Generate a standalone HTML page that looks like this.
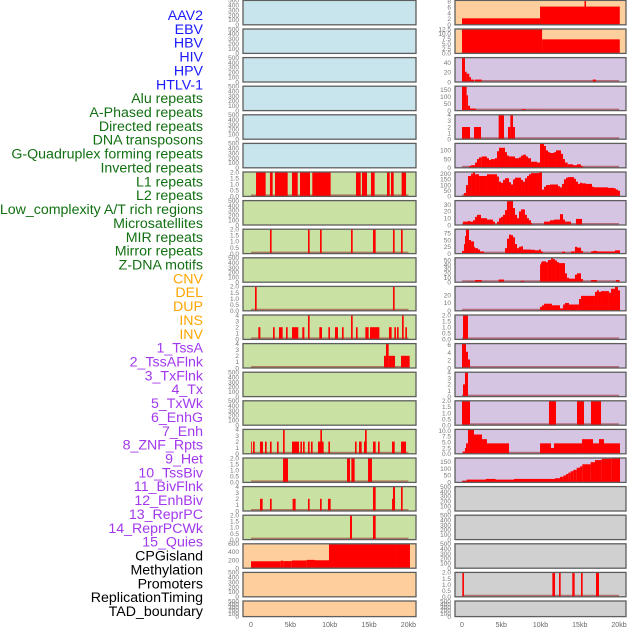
<!DOCTYPE html>
<html><head><meta charset="utf-8"><style>
html,body{margin:0;padding:0;background:#fff;}
svg{display:block;font-family:"Liberation Sans",sans-serif;}
</style></head><body>
<svg id="chart" width="630" height="630" viewBox="0 0 630 630"></svg>
<script>
const labels = ["AAV2","EBV","HBV","HIV","HPV","HTLV-1","Alu repeats","A-Phased repeats","Directed repeats","DNA transposons","G-Quadruplex forming repeats","Inverted repeats","L1 repeats","L2 repeats","Low_complexity A/T rich regions","Microsatellites","MIR repeats","Mirror repeats","Z-DNA motifs","CNV","DEL","DUP","INS","INV","1_TssA","2_TssAFlnk","3_TxFlnk","4_Tx","5_TxWk","6_EnhG","7_Enh","8_ZNF_Rpts","9_Het","10_TssBiv","11_BivFlnk","12_EnhBiv","13_ReprPC","14_ReprPCWk","15_Quies","CPGisland","Methylation","Promoters","ReplicationTiming","TAD_boundary"];
const labelGroups = ["v","v","v","v","v","v","r","r","r","r","r","r","r","r","r","r","r","r","r","s","s","s","s","s","c","c","c","c","c","c","c","c","c","c","c","c","c","c","c","o","o","o","o","o"];
const xTickValues = [0,5,10,15,20];
const xTickLabels = ["0","5kb","10kb","15kb","20kb"];

const segsL6 = [[0.64,1.86,2],[2.41,2.75,2],[3.05,4.66,2],[5.21,5.93,2],[6.23,7.5,2],[7.79,10.12,2],[13.34,13.94,2],[14.10,14.74,2],[15.25,15.71,2],[17.28,17.62,2],[17.79,18.13,2],[19.14,19.7,2]];
const segsL8 = [[2.41,2.62,2],[7.24,7.45,2],[8.77,8.98,2],[12.71,12.92,2],[15.5,15.84,2],[18.04,18.25,2],[19.06,19.27,2]];
const segsL10 = [[0.51,0.72,2],[18.04,18.25,2]];
const segsL11 = [[0.93,1.19,2],[2.80,3.01,2],[3.56,4.02,2],[4.45,4.66,2],[5.21,6.01,2],[6.52,6.78,2],[7.24,7.45,4],[8.68,9.02,2],[9.83,10.04,2],[10.67,11.05,2],[11.56,11.77,2],[12.71,12.92,4],[13.34,13.55,2],[14.53,14.95,2],[15.12,16.31,2],[17.53,17.87,2],[18.21,18.42,2],[18.55,18.76,2],[19.19,19.40,4],[19.61,19.82,2]];
const segsL12 = [[16.9,17.15,2],[17.15,17.49,4],[17.49,18.3,2],[19.06,20.16,2]];
const segsL15 = [[0,0.1,2],[0.25,0.47,2],[1.14,1.52,2],[1.78,1.99,2],[2.41,2.62,2],[3.30,3.51,2],[4.07,4.28,4],[5.21,6.10,2],[6.27,6.48,2],[6.61,6.82,2],[7.24,7.45,2],[7.62,7.83,2],[8.51,9.23,2],[8.81,9.02,4],[9.83,10.04,2],[13.21,13.42,2],[13.72,14.06,2],[14.36,14.70,2],[14.49,14.70,4],[15.50,15.84,2],[16.14,16.35,2],[17.92,18.26,2],[19.06,19.70,2]];
const segsL16 = [[4.07,4.70,2],[12.2,12.58,2],[12.75,13.17,2],[14.87,15.37,2]];
const segsL17 = [[1.14,1.48,2],[2.41,2.63,2],[5.29,5.67,2],[7.24,7.45,2],[8.77,8.98,2],[9.78,10.12,2],[15.50,15.84,4],[17.92,18.04,2],[18.04,18.3,4],[19.06,19.27,4]];
const segsL18 = [[12.58,12.83,2],[15.5,15.84,2]];
const segsL19 = [[0,3.77,170],[3.77,4.1,185],[4.1,5.17,175],[5.17,7.07,190],[7.07,8.13,205],[8.13,9.91,195],[9.91,18.3,600],[18.3,20.2,590]];

const segsR0 = [[0,9.94,2.2],[9.94,20.1,6.2],[15.6,15.8,8.3]];
const segsR1 = [[0,10.2,12.5],[10.2,20.1,7.2]];
const segsR2 = [[0,0.38,50],[0.38,0.59,21],[0.59,0.93,17],[0.93,1.15,10],[1.15,1.53,5],[1.66,2.5,5],[16.65,17.07,5]];
const segsR3 = [[0,0.59,175],[0.59,0.76,110],[0.76,1.02,35],[1.02,1.74,15],[1.74,2.17,5],[7.6,8.11,10],[8.54,10.02,5],[19.62,20.08,5]];
const segsR4 = [[0,1.02,2],[1.53,2.42,2],[4.67,5.35,4],[5.86,6.16,2],[6.16,6.5,4],[6.5,6.75,2]];
const segsR5 = [[0.89,1.15,10],[1.15,1.66,15],[1.66,1.91,30],[1.91,2.17,50],[2.17,2.51,60],[2.51,3.18,65],[3.18,3.44,55],[3.44,3.69,45],[3.69,4.2,50],[4.2,4.46,55],[4.46,4.71,95],[4.71,5.48,115],[5.48,5.73,90],[5.73,5.99,70],[5.99,6.75,65],[6.75,7.26,55],[7.26,7.52,60],[7.52,7.77,70],[7.77,8.15,75],[8.15,8.41,65],[8.41,8.79,55],[8.79,9.55,35],[9.55,9.94,30],[9.94,10.45,140],[10.45,10.7,125],[10.7,10.96,100],[10.96,11.21,90],[11.21,11.72,85],[11.72,11.97,90],[11.97,12.61,100],[12.61,12.87,80],[12.87,13.12,50],[13.12,13.46,30],[13.46,14.14,20],[14.14,14.65,15],[14.65,15.16,20],[15.16,15.41,10],[15.41,15.54,3]];
const segsR6 = [[0,0.25,5],[0.25,0.51,30],[0.51,0.76,100],[0.76,1.15,180],[1.15,1.40,200],[1.40,1.66,210],[1.66,2.17,195],[2.17,3.18,180],[3.18,4.46,195],[4.46,4.71,175],[4.71,4.97,130],[4.97,5.22,120],[5.22,5.48,145],[5.48,5.99,160],[5.99,6.24,125],[6.24,6.50,105],[6.50,6.75,150],[6.75,7.52,165],[7.52,7.77,145],[7.77,8.02,130],[8.02,8.28,160],[8.28,8.53,180],[8.53,8.79,195],[8.79,9.81,205],[9.81,10.19,215],[10.19,10.45,60],[10.45,10.70,85],[10.70,11.21,100],[11.21,12.23,105],[12.23,12.48,90],[12.48,12.74,80],[12.74,12.99,110],[12.99,13.25,150],[13.25,13.50,165],[13.50,14.27,170],[14.27,14.52,155],[14.52,14.78,130],[14.78,15.03,110],[15.03,15.29,120],[15.29,15.80,115],[15.80,16.56,110],[16.56,16.81,85],[16.81,18.60,80],[18.60,19.36,75],[19.36,19.62,70],[19.62,19.87,60],[19.87,20.13,50]];
const segsR7 = [[0.13,0.76,5],[0.76,1.02,6],[1.02,1.40,5],[1.40,1.66,7],[1.66,1.91,12],[1.91,2.42,15],[2.42,3.18,10],[3.18,3.95,8],[3.95,4.20,5],[4.46,4.71,5],[4.71,4.97,10],[4.97,5.22,12],[5.22,5.48,15],[5.48,5.73,22],[5.73,5.99,35],[5.99,6.50,36],[6.50,6.75,25],[6.75,7.01,15],[7.01,7.26,10],[7.26,7.52,20],[7.52,8.02,23],[8.02,8.28,15],[8.28,8.53,10],[8.53,8.79,7],[8.79,8.92,3],[10.45,11.21,5],[11.21,11.72,7],[11.72,12.48,8],[12.48,12.87,16],[12.87,13.12,8],[13.12,13.88,5],[14.52,15.29,9]];
const segsR8 = [[0,0.25,10],[0.25,0.38,35],[0.38,0.51,65],[0.51,0.89,90],[0.89,1.15,50],[1.15,1.53,45],[1.53,1.66,25],[1.66,2.04,20],[2.04,2.29,15],[2.29,2.80,8],[5.48,5.73,20],[5.73,5.99,55],[5.99,6.24,70],[6.24,6.50,68],[6.50,6.75,60],[6.75,7.01,35],[7.01,7.26,20],[7.26,7.52,25],[7.52,7.77,27],[7.77,8.79,15],[8.79,9.30,14],[9.30,9.81,12],[9.81,10.06,15],[10.06,10.32,8],[12.74,13.12,7],[13.88,14.39,8],[14.39,14.65,25],[14.65,15.16,22],[15.16,15.41,10],[16.43,16.69,8],[16.69,17.20,10],[17.20,19.49,8],[19.49,20.13,12]];
const segsR9 = [[0.8,1.66,2],[1.66,2.51,5],[4.67,5.35,6],[7.47,7.90,3],[9.94,10.06,40],[10.06,10.19,45],[10.19,10.70,47],[10.70,10.95,45],[10.95,11.34,50],[11.34,11.59,55],[11.59,11.85,52],[11.85,12.10,49],[12.10,12.36,45],[12.36,13.12,43],[13.12,13.37,20],[13.37,13.63,10],[13.63,14.39,8],[14.39,14.65,17],[14.65,15.16,20],[15.16,15.41,7],[16.43,17.20,5],[19.62,20.08,5]];
const segsR10 = [[9.94,10.19,5],[10.19,10.45,7],[10.45,11.46,9],[11.46,12.48,7],[12.48,12.87,3],[12.87,13.12,8],[13.12,13.63,10],[13.63,14.90,8],[14.90,15.16,15],[15.16,16.94,19],[16.94,17.20,24],[17.20,17.45,26],[17.45,17.71,24],[17.71,18.72,25],[18.72,18.98,23],[18.98,19.49,28],[19.49,19.87,31],[19.87,20.13,26]];
const segsR11 = [[0.13,0.76,2]];
const segsR12 = [[0,0.51,6.2],[0.51,0.76,4.2],[0.76,1.02,2.2]];
const segsR13 = [[0.13,0.38,2],[0.38,0.76,4]];
const segsR14 = [[0,1.02,2],[11.08,11.97,2],[14.65,15.54,2],[16.43,17.71,2]];
const segsR15 = [[0.13,0.38,1],[0.38,0.51,2.5],[0.51,0.76,4.5],[0.76,1.53,10.5],[1.53,2.55,8.3],[2.55,3.18,6.3],[3.18,5.99,4.5],[9.94,11.34,4.5],[11.34,11.72,2.5],[11.72,15.29,4.5],[15.29,16.69,6.3],[16.69,17.45,4.5],[17.45,18.09,6.3],[18.09,20.13,4.5]];
const segsR16 = [[0.04,0.59,10],[0.59,3.01,20],[3.01,4.29,25],[4.29,6.62,20],[6.62,11.85,25],[11.85,12.48,30],[12.48,12.91,40],[12.91,13.25,50],[13.25,13.54,60],[13.54,13.84,70],[13.84,14.18,80],[14.18,14.61,90],[14.61,15.03,105],[15.03,15.33,115],[15.33,16.39,130],[16.39,16.94,145],[16.94,17.79,160],[17.79,19.07,170],[19.07,20.13,175]];
const segsR20 = [[0.04,0.25,2],[11.51,11.85,2],[12.36,12.57,2],[14.05,14.35,2],[15.16,15.37,2],[17.07,17.45,2]];

const ticksEmpty = ["0","100","200","300","400","500"];
const ticks2 = ["0.0","0.5","1.0","1.5","2.0"];
const ticks4 = ["0","1","2","3","4"];
const ticksMeth = ["0","200","400","600"];
const ticksR0 = ["0","2","4","6","8"];
const ticksR1 = ["0.0","2.5","5.0","7.5","10.0","12.5"];
const ticksR2 = ["0","20","40"];
const ticksR3 = ["0","50","100","150"];
const ticksR5 = ["0","50","100"];
const ticksR6 = ["0","50","100","150","200"];
const ticksR7 = ["0","10","20","30"];
const ticksR8 = ["0","25","50","75"];
const ticksR9 = ["0","10","20","30","40","50"];
const ticksR10 = ["0","10","20"];
const ticksR12 = ["0","2","4","6"];
const ticksR15 = ["0.0","2.5","5.0","7.5","10.0"];

const BG = {v:"#c8e4ec", r:"#c9e2a4", s:"#fecf9d", c:"#d6c5e2", o:"#d0d0d0"};
const leftPanels = [
 ["v",null,500,ticksEmpty],["v",null,500,ticksEmpty],["v",null,500,ticksEmpty],["v",null,500,ticksEmpty],["v",null,500,ticksEmpty],["v",null,500,ticksEmpty],
 ["r",segsL6,2,ticks2],["r",null,500,ticksEmpty],["r",segsL8,2,ticks2],["r",null,500,ticksEmpty],["r",segsL10,2,ticks2],["r",segsL11,4,ticks4],["r",segsL12,4,ticks4],["r",null,500,ticksEmpty],["r",null,500,ticksEmpty],["r",segsL15,4,ticks4],["r",segsL16,2,ticks2],["r",segsL17,4,ticks4],["r",segsL18,2,ticks2],
 ["s",segsL19,600,ticksMeth],["s",null,500,ticksEmpty],["s",null,500,ticksEmpty]
];
const rightPanels = [
 ["s",segsR0,8.3,ticksR0],["s",segsR1,12.5,ticksR1],
 ["c",segsR2,50,ticksR2],["c",segsR3,175,ticksR3],["c",segsR4,4,ticks4],["c",segsR5,140,ticksR5],["c",segsR6,215,ticksR6],["c",segsR7,36,ticksR7],["c",segsR8,90,ticksR8],["c",segsR9,55,ticksR9],["c",segsR10,31,ticksR10],["c",segsR11,2,ticks2],["c",segsR12,6.3,ticksR12],["c",segsR13,4,ticks4],["c",segsR14,2,ticks2],["c",segsR15,10.5,ticksR15],["c",segsR16,175,ticksR3],
 ["o",null,500,ticksEmpty],["o",null,500,ticksEmpty],["o",null,500,ticksEmpty],["o",segsR20,2,ticks2],["o",null,500,ticksEmpty]
];

const NS = "http://www.w3.org/2000/svg";
const svg = document.getElementById("chart");
function mk(tag, attrs, parent){ const e=document.createElementNS(NS,tag); for(const k in attrs) e.setAttribute(k,attrs[k]); (parent||svg).appendChild(e); return e; }
const LABEL_COL = {v:"#1a1aff", r:"#127012", s:"#ffa500", c:"#a238ee", o:"#000000"};

labels.forEach((t,i)=>{
  const e = mk("text",{x:203,y:15+i*13.86+5,"text-anchor":"end","font-size":"14.2",fill:LABEL_COL[labelGroups[i]]});
  
  
  e.textContent = t;
});

const COLS = [
  {x0:243,x1:416,zero:251,scale:7.87,panels:leftPanels},
  {x0:455,x1:626,zero:462,scale:7.85,panels:rightPanels}
];
function rowTop(i){ return 0.4 + i*28.6; }
function rowH(i){ return i===21 ? 15.6 : 24.4; }

COLS.forEach(col=>{
  const xs = kb => col.zero + kb*col.scale;
  col.panels.forEach((p,i)=>{
    const [grp, segs, ymax, ticks] = p;
    const top = rowTop(i), h = rowH(i), bot = top + h;
    const ys = v => bot - v/ymax*h;
    const g = mk("g",{});
    
    
    mk("rect",{x:col.x0,y:top,width:col.x1-col.x0,height:h,fill:BG[grp]},g);
    ticks.forEach(tl=>{
      const v = parseFloat(tl);
      const t = mk("text",{x:col.x0-4,y:bot - v/ymax*h + 2.3,"text-anchor":"end","font-size":"6.5",fill:"#777"},g);
      
      
      t.textContent = tl;
    });
    if(segs){
      const bl = mk("line",{x1:xs(0),x2:xs(20),y1:bot-1,y2:bot-1,stroke:"rgba(150,20,20,0.5)","stroke-width":2},g);
      
      
      segs.forEach(s=>{
        const y = Math.max(top, ys(s[2]));
        const r = mk("rect",{x:xs(s[0]),y:y,width:Math.max(0.8,xs(s[1])-xs(s[0])),height:bot-y,fill:"#ff0000"},g);
        
        
      });
    }
    const fr = mk("rect",{x:col.x0,y:top,width:col.x1-col.x0,height:h,fill:"none",stroke:"#5e5e5e","stroke-width":1.3},g);
    
    
  });
  xTickValues.forEach((v,k)=>{
    const t = mk("text",{x:xs(v),y:627,"text-anchor":"middle","font-size":"7",fill:"#666"});
    
    
    t.textContent = xTickLabels[k];
  });
});
</script>
</body></html>
